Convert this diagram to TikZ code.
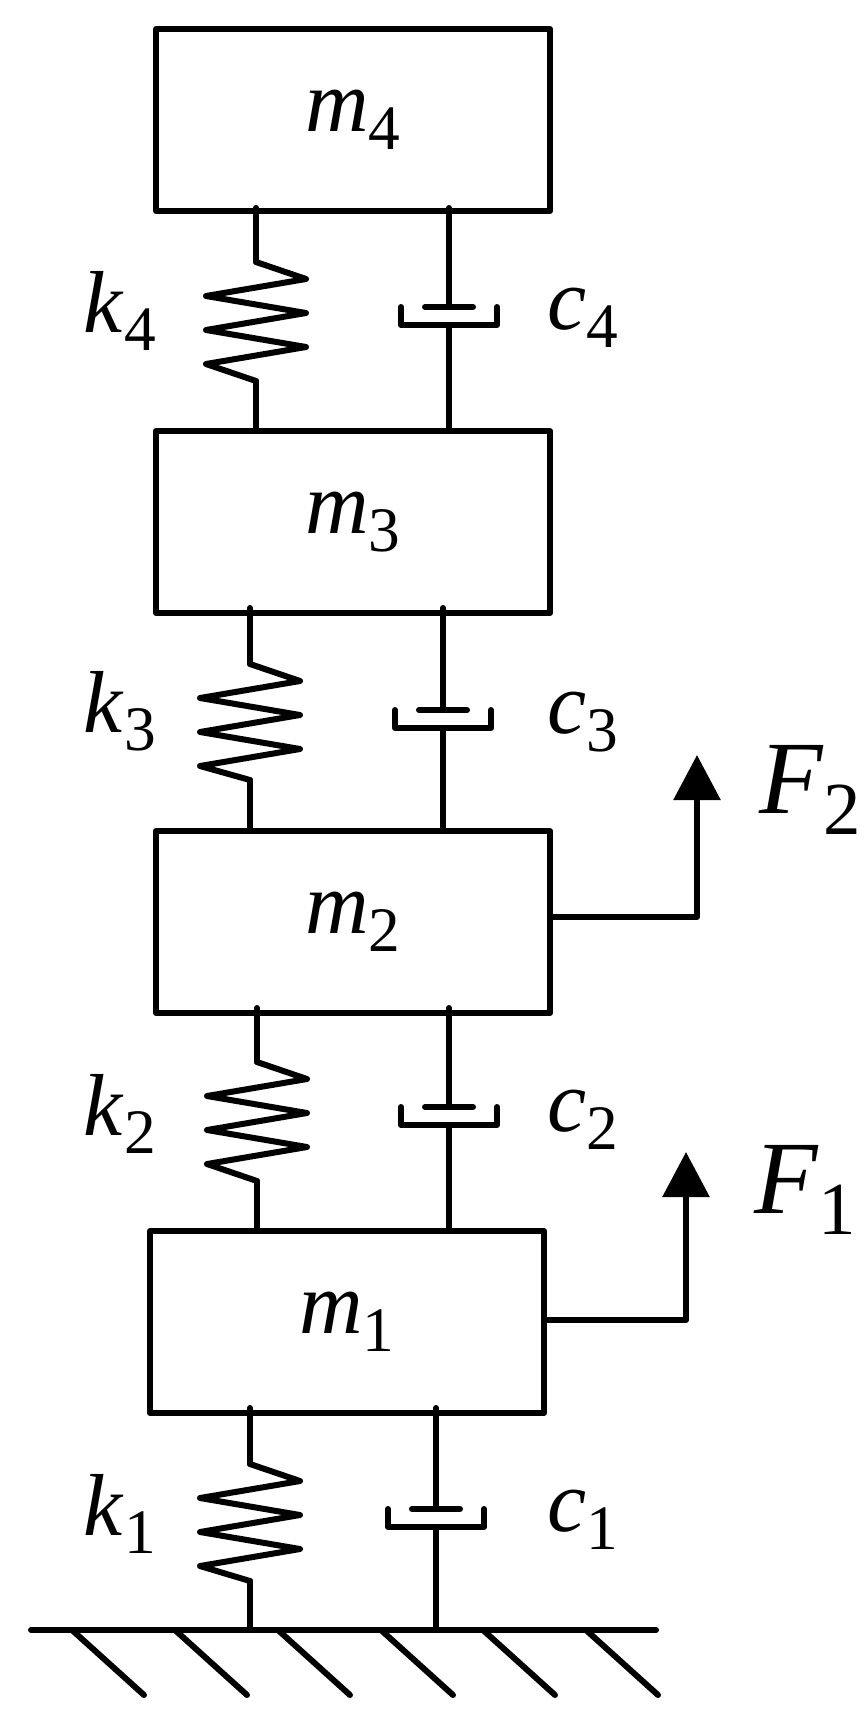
\documentclass[tikz,border=0pt]{standalone}
\usepackage{fontspec}
\setmainfont{Liberation Serif}
\usetikzlibrary{arrows.meta}
\newcommand\lbl[3][88]{{\fontsize{#1}{#1}\selectfont\textit{#2}\raisebox{-0.2em}{\fontsize{0.72\dimexpr#1pt\relax}{10}\selectfont #3}}}
\newcommand\spr[3]{% x, ytop, ybottom of zig section
  \draw[line] (#1,#2) -- ++(50,17) -- ++(-100,17) -- ++(100,17) -- ++(-100,17) -- ++(100,17) -- ++(-100,17) -- (#1,#3);}
\newcommand\dmp[2]{% x, y of cup bottom
  \draw[line] (#1-48,#2-18) -- (#1-48,#2) -- (#1+48,#2) -- (#1+48,#2-18);
  \draw[line] (#1-24,#2-18) -- (#1+24,#2-18);}
\begin{document}
\begin{tikzpicture}[x=1pt,y=-1pt,
  line/.style={line width=6pt,line join=round,line cap=round},
  mass/.style={draw,line width=6pt,line join=round,minimum width=394pt,minimum height=182pt,inner sep=0pt,anchor=north west},
  lab/.style={inner sep=0pt}]
\useasboundingbox (0,0) rectangle (866,1734);
\node[mass] (m4) at (153,26) {};
\node[mass] (m3) at (153,428) {};
\node[mass] (m2) at (153,828) {};
\node[mass] (m1) at (147,1228) {};
\node[lab] at (m4.center) {\lbl{m}{4}};
\node[lab] at (m3.center) {\lbl{m}{3}};
\node[lab] at (m2.center) {\lbl{m}{2}};
\node[lab] at (m1.center) {\lbl{m}{1}};
% springs
\draw[line] (256,208) -- (256,262); \spr{256}{262}{381} \draw[line] (256,381) -- (256,428);
\draw[line] (250,608) -- (250,664); \spr{250}{664}{780} \draw[line] (250,780) -- (250,828);
\draw[line] (257,1008) -- (257,1062); \spr{257}{1062}{1181} \draw[line] (257,1181) -- (257,1228);
\draw[line] (250,1408) -- (250,1464); \spr{250}{1464}{1581} \draw[line] (250,1581) -- (250,1630);
% dampers
\draw[line] (449,208) -- (449,307); \draw[line] (449,325) -- (449,428); \dmp{449}{325}
\draw[line] (443,608) -- (443,710); \draw[line] (443,728) -- (443,828); \dmp{443}{728}
\draw[line] (449,1008) -- (449,1107); \draw[line] (449,1125) -- (449,1228); \dmp{449}{1125}
\draw[line] (436,1408) -- (436,1509); \draw[line] (436,1527) -- (436,1630); \dmp{436}{1527}
% labels
\node[lab] at (120,311) {\lbl{k}{4}};
\node[lab] at (120,711) {\lbl{k}{3}};
\node[lab] at (120,1114) {\lbl{k}{2}};
\node[lab] at (120,1514) {\lbl{k}{1}};
\node[lab] at (583,318) {\lbl{c}{4}};
\node[lab] at (583,722) {\lbl{c}{3}};
\node[lab] at (583,1120) {\lbl{c}{2}};
\node[lab] at (583,1520) {\lbl{c}{1}};
% forces
\coordinate (f2) at (697,755);
\coordinate (f1) at (686,1152);
\draw[line,-{Triangle[length=45pt,width=46pt]}] (m2.east |- 0,917) -- (697,917) -- (f2);
\draw[line,-{Triangle[length=45pt,width=46pt]}] (m1.east |- 0,1320) -- (686,1320) -- (f1);
\node[lab] at (810,790) {\lbl[104]{F}{2}};
\node[lab] at (805,1190) {\lbl[104]{F}{1}};
% ground
\draw[line] (31,1630) -- (656,1630);
\foreach \x in {72,175,278,381,483,586} \draw[line] (\x,1630) -- (\x+72,1695);
\end{tikzpicture}
\end{document}
